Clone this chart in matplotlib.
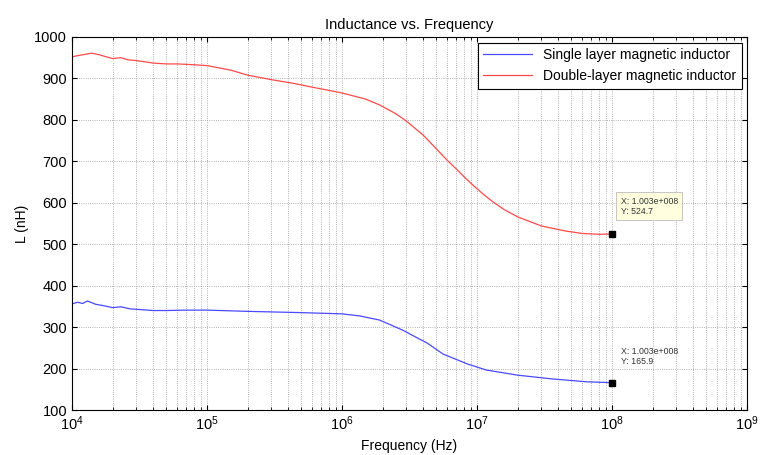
import matplotlib.pyplot as plt

plt.rcParams['font.family'] = ['Liberation Sans', 'DejaVu Sans']

# values (Hz, nH)
f_double = [1e4, 1.1e4, 1.25e4, 1.4e4, 1.6e4, 1.8e4, 2e4, 2.3e4, 2.6e4, 3e4, 3.5e4, 4e4,
            5e4, 6e4, 7e4, 8e4, 1e5, 1.5e5, 2e5, 3e5, 4.4e5, 6e5, 1e6, 1.5e6, 1.9e6,
            2.5e6, 3e6, 4e6, 5e6, 6e6, 7e6, 8e6, 9.3e6, 1.1e7, 1.3e7, 1.6e7, 2e7,
            3e7, 4.5e7, 6e7, 8e7, 1.003e8]
L_double = [952, 955, 958, 961, 957, 952, 948, 950, 945, 943, 940, 937,
            935, 935, 934, 933, 931, 920, 908, 897, 888, 879, 865, 850, 836,
            815, 797, 763, 730, 703, 682, 663, 643, 622, 603, 583, 566,
            544, 532, 526, 524, 524.7]

f_single = [1e4, 1.1e4, 1.2e4, 1.3e4, 1.5e4, 1.7e4, 2e4, 2.3e4, 2.7e4, 3e4, 4e4, 5e4,
            7e4, 1e5, 2e5, 4.9e5, 1e6, 1.35e6, 1.9e6, 2.8e6, 4.3e6, 5.6e6, 8.5e6,
            1.17e7, 2e7, 3.6e7, 6.5e7, 1.003e8]
L_single = [356, 360, 357, 363, 355, 352, 347, 349, 344, 343, 340, 340,
            341, 341, 338, 335, 332, 327, 317, 293, 261, 235, 211,
            196.5, 184, 175, 168, 165.9]

fig = plt.figure(figsize=(7.6, 4.55), dpi=100)
ax = fig.add_axes([0.0947, 0.0989, 0.8883, 0.8198])

ax.semilogx(f_single, L_single, color='#4a4aff', lw=0.9, label='Single layer magnetic inductor')
ax.semilogx(f_double, L_double, color='#ff4a4a', lw=0.9, label='Double-layer magnetic inductor')

ax.set_xlim(1e4, 1e9)
ax.set_ylim(100, 1000)
ax.set_yticks(range(100, 1001, 100))
ax.grid(True, which='major', ls=':', color='#999999', lw=0.6)
ax.grid(True, which='minor', axis='x', ls=':', color='#999999', lw=0.6)
ax.tick_params(which='both', direction='in', top=True, right=True, labelsize=10.5)

ax.set_title('Inductance vs. Frequency', fontsize=10.5)
ax.set_xlabel('Frequency (Hz)', fontsize=10)
ax.set_ylabel('L (nH)', fontsize=10)

leg = ax.legend(loc='upper right', fontsize=10, fancybox=False, framealpha=1,
                edgecolor='black', borderaxespad=0.4, handlelength=3.5)
leg.get_frame().set_linewidth(0.8)

# data tips
ax.plot(f_double[-1], L_double[-1], 's', color='black', ms=5, zorder=5)
ax.plot(f_single[-1], L_single[-1], 's', color='black', ms=5, zorder=5)
ax.annotate('X: 1.003e+008\nY: 524.7', (f_double[-1], L_double[-1]), xytext=(6, 13),
            textcoords='offset points', fontsize=6.3, va='bottom', ha='left', color='#333333',
            bbox=dict(boxstyle='square,pad=0.5', fc='#ffffe0', ec='#bbbbbb', lw=0.6))
ax.annotate('X: 1.003e+008\nY: 165.9', (f_single[-1], L_single[-1]), xytext=(6, 12),
            textcoords='offset points', fontsize=6.3, va='bottom', ha='left', color='#333333')

fig.savefig('out.png', dpi=100)
